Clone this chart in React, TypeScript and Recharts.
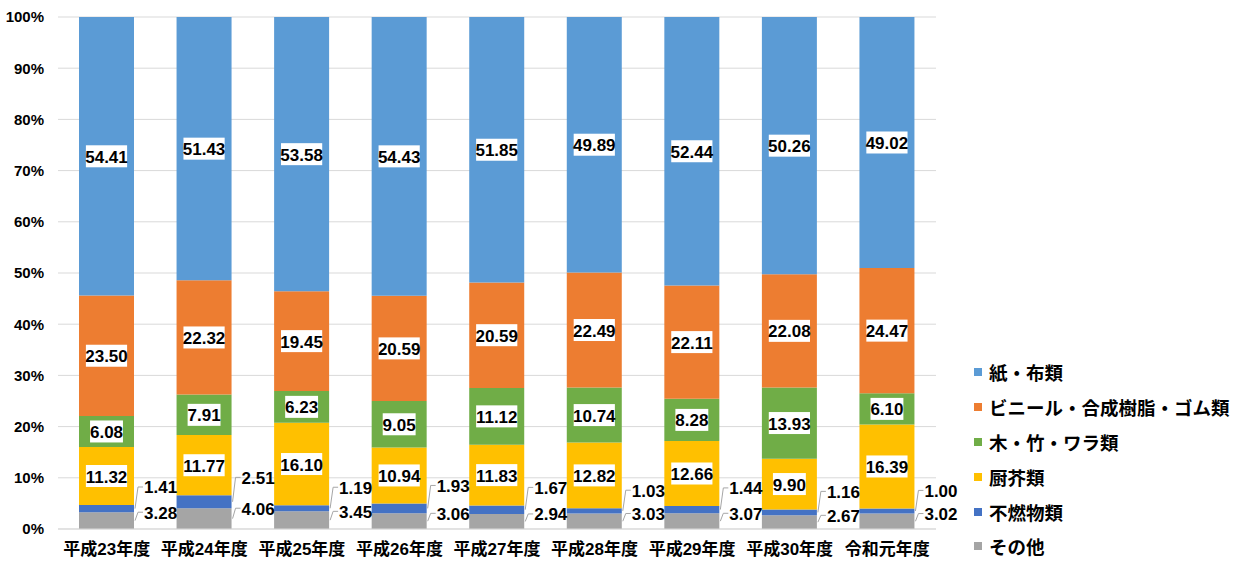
import React from 'react';
import { BarChart, Bar, XAxis, YAxis, CartesianGrid, LabelList } from 'recharts';

const categories = ['平成23年度', '平成24年度', '平成25年度', '平成26年度', '平成27年度', '平成28年度', '平成29年度', '平成30年度', '令和元年度'];
const paper = [54.41, 51.43, 53.58, 54.43, 51.85, 49.89, 52.44, 50.26, 49.02];
const vinyl = [23.5, 22.32, 19.45, 20.59, 20.59, 22.49, 22.11, 22.08, 24.47];
const wood = [6.08, 7.91, 6.23, 9.05, 11.12, 10.74, 8.28, 13.93, 6.1];
const kitchen = [11.32, 11.77, 16.1, 10.94, 11.83, 12.82, 12.66, 9.9, 16.39];
const incombustible = [1.41, 2.51, 1.19, 1.93, 1.67, 1.03, 1.44, 1.16, 1.0];
const other = [3.28, 4.06, 3.45, 3.06, 2.94, 3.03, 3.07, 2.67, 3.02];
const yTicks = [0, 10, 20, 30, 40, 50, 60, 70, 80, 90, 100];

const seriesNames = {
  paper: '紙・布類',
  vinyl: 'ビニール・合成樹脂・ゴム類',
  wood: '木・竹・ワラ類',
  kitchen: '厨芥類',
  incombustible: '不燃物類',
  other: 'その他',
};
const colors = {
  paper: '#5B9BD5',
  vinyl: '#ED7D31',
  wood: '#70AD47',
  kitchen: '#FFC000',
  incombustible: '#4472C4',
  other: '#A5A5A5',
};

const data = categories.map((c, i) => ({
  name: c,
  other: other[i],
  incombustible: incombustible[i],
  kitchen: kitchen[i],
  wood: wood[i],
  vinyl: vinyl[i],
  paper: paper[i],
}));

const FONT = "'Liberation Sans', 'Noto Sans CJK JP', sans-serif";
const NUMFONT = "'Liberation Sans Narrow', 'Liberation Sans', sans-serif";

const BoxLabel = (props: any) => {
  const { x, y, width, height, value } = props;
  const s = Number(value).toFixed(2);
  const digits = s.replace('.', '').length;
  const w = digits * 8.3 + 8;
  const h = 22;
  const cx = x + width / 2;
  const cy = y + height / 2;
  return (
    <g>
      <rect x={cx - w / 2} y={cy - h / 2} width={w} height={h} fill="#FFFFFF" />
      <text x={cx} y={cy + 1} textAnchor="middle" dominantBaseline="central" fontFamily={NUMFONT} fontWeight="bold" fontSize={17} fill="#000">
        {s}
      </text>
    </g>
  );
};

const makeSideLabel = (shift: number) => (props: any) => {
  const { x, y, width, height, value } = props;
  const s = Number(value).toFixed(2);
  const bx = x + width + 1;
  const by = y + height / 2;
  const ly = y + shift;
  return (
    <g>
      <polyline points={`${bx},${by} ${bx + 3},${ly} ${bx + 8},${ly}`} fill="none" stroke="#A6A6A6" strokeWidth={1} />
      <text x={bx + 9} y={ly + 1} textAnchor="start" dominantBaseline="central" fontFamily={NUMFONT} fontWeight="bold" fontSize={17} fill="#000">
        {s}
      </text>
    </g>
  );
};

const legendOrder = ['paper', 'vinyl', 'wood', 'kitchen', 'incombustible', 'other'] as const;

const LegendBox = () => (
  <div style={{ position: 'absolute', left: 974, top: 355, fontFamily: FONT, fontWeight: 'bold', fontSize: 18.5, color: '#000' }}>
    {legendOrder.map((k) => (
      <div key={k} style={{ display: 'flex', alignItems: 'center', height: 34.8 }}>
        <span style={{ display: 'inline-block', width: 8, height: 8, background: colors[k], marginRight: 7 }} />
        <span style={{ whiteSpace: 'nowrap' }}>{seriesNames[k]}</span>
      </div>
    ))}
  </div>
);

export default function App() {
  return (
    <div style={{ position: 'absolute', left: 0, top: 0, width: 1241, height: 563, background: '#fff' }}>
      <BarChart width={1241} height={563} data={data} margin={{ top: 17, right: 305, bottom: 0, left: 0 }} barSize={55}>
        <CartesianGrid vertical={false} stroke="#D9D9D9" />
        <XAxis
          dataKey="name"
          height={34}
          tickLine={false}
          axisLine={{ stroke: '#D9D9D9' }}
          tickSize={0}
          tickMargin={14}
          tick={{ fontFamily: FONT, fontWeight: 'bold', fontSize: 17, fill: '#000' }}
          interval={0}
        />
        <YAxis
          width={58}
          domain={[0, 100]}
          ticks={yTicks}
          allowDataOverflow
          axisLine={false}
          tickLine={false}
          tickSize={0}
          tickMargin={14}
          tickFormatter={(v: number) => `${v}%`}
          tick={{ fontFamily: NUMFONT, fontWeight: 'bold', fontSize: 15, fill: '#000' }}
        />
        <Bar dataKey="other" name={seriesNames.other} stackId="a" fill={colors.other} isAnimationActive={false}>
          <LabelList dataKey="other" content={makeSideLabel(0)} />
        </Bar>
        <Bar dataKey="incombustible" name={seriesNames.incombustible} stackId="a" fill={colors.incombustible} isAnimationActive={false}>
          <LabelList dataKey="incombustible" content={makeSideLabel(-18)} />
        </Bar>
        <Bar dataKey="kitchen" name={seriesNames.kitchen} stackId="a" fill={colors.kitchen} isAnimationActive={false}>
          <LabelList dataKey="kitchen" content={BoxLabel} />
        </Bar>
        <Bar dataKey="wood" name={seriesNames.wood} stackId="a" fill={colors.wood} isAnimationActive={false}>
          <LabelList dataKey="wood" content={BoxLabel} />
        </Bar>
        <Bar dataKey="vinyl" name={seriesNames.vinyl} stackId="a" fill={colors.vinyl} isAnimationActive={false}>
          <LabelList dataKey="vinyl" content={BoxLabel} />
        </Bar>
        <Bar dataKey="paper" name={seriesNames.paper} stackId="a" fill={colors.paper} isAnimationActive={false}>
          <LabelList dataKey="paper" content={BoxLabel} />
        </Bar>
      </BarChart>
      <LegendBox />
    </div>
  );
}
